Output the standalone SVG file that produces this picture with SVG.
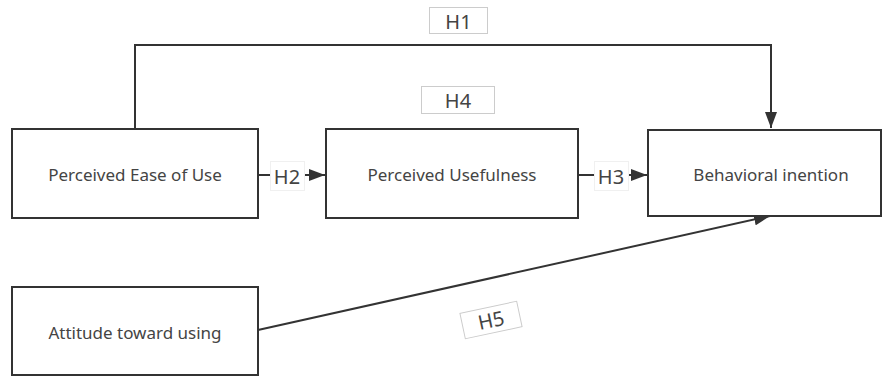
<svg xmlns="http://www.w3.org/2000/svg" width="882" height="376" viewBox="0 0 882 376">
<style>
.node{fill:#fff;stroke:#333;stroke-width:2}
.t{font-family:"Noto Sans","Open Sans",sans-serif;font-size:17px;fill:#444;text-anchor:middle;dominant-baseline:central}
.h{font-family:"Noto Sans","Open Sans",sans-serif;font-size:20px;fill:#444;text-anchor:middle;dominant-baseline:central}
.lb{fill:#fff;stroke:#ccc;stroke-width:1}
.lbf{fill:#fff;stroke:#f0f0f0;stroke-width:1}
.c{fill:none;stroke:#333;stroke-width:2}
</style>
<defs>
<marker id="a" viewBox="0 0 16 12" refX="16" refY="6" markerWidth="8" markerHeight="6" orient="auto" markerUnits="strokeWidth">
<path d="M0,0 L16,6 L0,12 z" fill="#333"/>
</marker>
</defs>
<rect width="882" height="376" fill="#fff"/>
<g id="connectors">
<path class="c" d="M135,128 V45 H771 V128" marker-end="url(#a)"/>
<path class="c" d="M258,175 H325" marker-end="url(#a)"/>
<path class="c" d="M578,175 H647" marker-end="url(#a)"/>
<path class="c" d="M258,330 L770,216" marker-end="url(#a)"/>
</g>
<g id="n1"><rect class="node" x="12" y="129" width="246" height="89"/><text class="t" x="135" y="174">Perceived Ease of Use</text></g>
<g id="n2"><rect class="node" x="326" y="129" width="252" height="89"/><text class="t" x="452" y="174">Perceived Usefulness</text></g>
<g id="n3"><rect class="node" x="648" y="130" width="233" height="86"/><text class="t" x="771" y="174">Behavioral inention</text></g>
<g id="n4"><rect class="node" x="12" y="287" width="246" height="88"/><text class="t" x="135" y="332">Attitude toward using</text></g>
<g id="labels">
<g id="H1"><rect class="lb" x="429.5" y="7.5" width="58" height="26"/><text class="h" x="458.5" y="21">H1</text></g>
<g id="H4"><rect class="lb" x="421.5" y="86.5" width="73" height="27"/><text class="h" x="458" y="100">H4</text></g>
<g id="H2"><rect class="lbf" x="270.5" y="161.5" width="34" height="29"/><text class="h" x="287" y="176">H2</text></g>
<g id="H3"><rect class="lbf" x="594.5" y="161.5" width="34" height="29"/><text class="h" x="611" y="176">H3</text></g>
<g id="H5" transform="translate(491,320) rotate(-12)"><rect class="lb" x="-29" y="-13" width="58" height="26"/><text class="h" x="0" y="0">H5</text></g>
</g>
</svg>
